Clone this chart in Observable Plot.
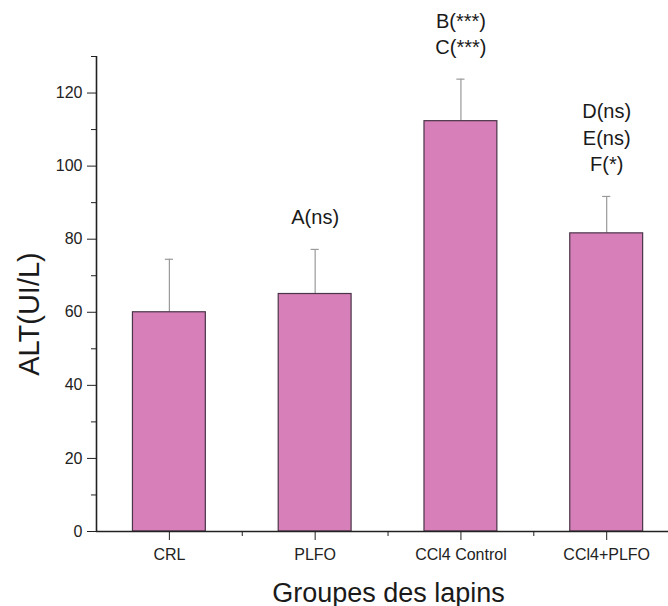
<!DOCTYPE html>
<html>
<head>
<meta charset="utf-8">
<script src="https://cdn.jsdelivr.net/npm/d3@7"></script>
<script src="https://cdn.jsdelivr.net/npm/@observablehq/plot@0.6"></script>
<style>
  html, body { margin: 0; padding: 0; background: #fff; }
  #chart svg { display: block; }
</style>
</head>
<body>
<div id="chart"></div>
<script>
const categories = ["CRL", "PLFO", "CCl4 Control", "CCl4+PLFO"];
const means = [60, 65, 112.3, 81.6];
const errors = [14.5, 12.2, 11.5, 10.1];
const signif = ["", "A(ns)", "B(***)\nC(***)", "D(ns)\nE(ns)\nF(*)"];
const majorTicksY = [0, 20, 40, 60, 80, 100, 120];
const minorTicksY = [10, 30, 50, 70, 90, 110, 130];

const data = categories.map((c, i) => ({
  pos: i + 1, cat: c, mean: means[i], err: errors[i], top: means[i] + errors[i], sig: signif[i]
}));
const halfBar = 0.25;
const capHalf = 0.028;
const minorTicksX = categories.map((c, i) => i + 1.5).filter(v => v <= 4.42);
const font = "'Liberation Sans', Arial, Helvetica, sans-serif";

const chart = Plot.plot({
  width: 668,
  height: 606,
  marginLeft: 96,
  marginRight: 0,
  marginTop: 56,
  marginBottom: 75,
  style: { fontFamily: font, background: "#fff", overflow: "visible" },
  x: { type: "linear", domain: [0.5, 4.424] },
  y: { domain: [0, 130] },
  marks: [
    Plot.ruleX(data, { x: "pos", y1: "mean", y2: "top", stroke: "#9a9a9a", strokeWidth: 1.2 }),
    Plot.ruleY(data, { y: "top", x1: d => d.pos - capHalf, x2: d => d.pos + capHalf, stroke: "#9a9a9a", strokeWidth: 1.2 }),
    Plot.rect(data, { x1: d => d.pos - halfBar, x2: d => d.pos + halfBar, y1: 0, y2: "mean", fill: "#d67fb8", stroke: "#4a3548", strokeWidth: 1.2 }),
    Plot.text(data, {
      x: "pos", y: "top", text: "sig", lineAnchor: "bottom", dy: -25,
      lineHeight: 1.33, fontSize: 20, fill: "#1a1a1a", fontFamily: font
    }),
    Plot.axisY({ ticks: majorTicksY, tickSize: 9, tickPadding: 5, fontSize: 16, label: null, stroke: "#222", color: "#222" }),
    Plot.axisY({ ticks: minorTicksY, tickSize: 5, tickFormat: () => "", label: null, stroke: "#222" }),
    Plot.axisX({ ticks: [1, 2, 3, 4], tickFormat: d => categories[d - 1], tickSize: 9, tickPadding: 8, fontSize: 16, label: null, stroke: "#222", color: "#222" }),
    Plot.axisX({ ticks: minorTicksX, tickSize: 5, tickFormat: () => "", label: null, stroke: "#222" }),
    Plot.ruleX([0.5], { y1: 0, y2: 130, stroke: "#222", strokeWidth: 1.6 }),
    Plot.ruleY([0], { stroke: "#222", strokeWidth: 1.6 }),
    Plot.text(["ALT(UI/L)"], { frameAnchor: "left", textAnchor: "middle", lineAnchor: "middle", rotate: -90, dx: -67, dy: 20, fontSize: 29, fill: "#1a1a1a", fontFamily: font }),
    Plot.text(["Groupes des lapins"], { frameAnchor: "bottom", dx: 6, dy: 70, fontSize: 27, fill: "#1a1a1a", fontFamily: font })
  ]
});
document.getElementById("chart").appendChild(chart);
</script>
</body>
</html>
